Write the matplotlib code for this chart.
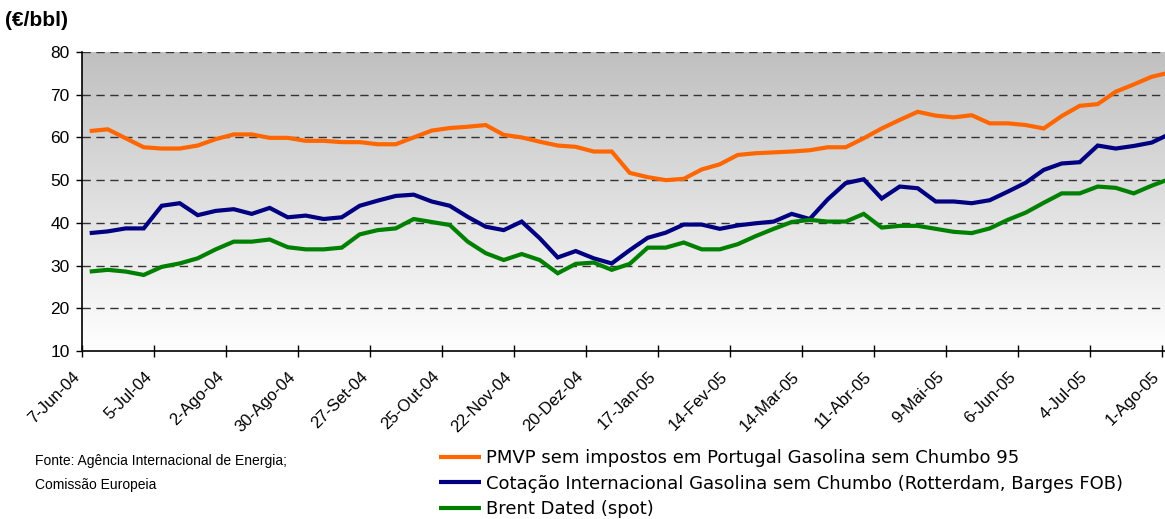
import matplotlib
matplotlib.use("Agg")
import matplotlib.pyplot as plt
import matplotlib.dates as mdates
import matplotlib.transforms as mtransforms
import numpy as np
import pandas as pd

# weekly quotes, first one on Thursday 10-Jun-04
dates = pd.date_range("2004-06-10", periods=61, freq="7D")

pmvp = [61.5, 61.9, 59.8, 57.7, 57.4, 57.4, 58.1, 59.6, 60.7, 60.7,
        59.9, 59.9, 59.2, 59.2, 58.9, 58.9, 58.4, 58.4, 60.0, 61.6,
        62.2, 62.5, 62.9, 60.6, 60.0, 59.0, 58.1, 57.8, 56.7, 56.7,
        51.7, 50.7, 50.0, 50.3, 52.5, 53.7, 55.9, 56.3, 56.5, 56.7,
        57.0, 57.7, 57.7, 59.8, 62.1, 64.1, 66.0, 65.1, 64.7, 65.2,
        63.3, 63.3, 62.9, 62.1, 65.0, 67.4, 67.8, 70.7, 72.4, 74.2,
        75.2]

cotacao = [37.6, 38.0, 38.7, 38.7, 44.0, 44.6, 41.8, 42.8, 43.2, 42.1,
           43.5, 41.3, 41.7, 40.9, 41.3, 44.0, 45.2, 46.3, 46.6, 45.0,
           44.0, 41.4, 39.1, 38.3, 40.3, 36.4, 31.9, 33.4, 31.7, 30.5,
           33.6, 36.5, 37.7, 39.6, 39.6, 38.6, 39.4, 39.9, 40.3, 42.1,
           40.9, 45.5, 49.3, 50.2, 45.7, 48.5, 48.1, 45.0, 45.0, 44.6,
           45.3, 47.3, 49.4, 52.4, 53.9, 54.2, 58.1, 57.4, 58.0, 58.8,
           60.8]

brent = [28.6, 29.0, 28.6, 27.8, 29.7, 30.5, 31.7, 33.8, 35.6, 35.6,
         36.1, 34.3, 33.8, 33.8, 34.2, 37.3, 38.3, 38.7, 40.9, 40.2,
         39.5, 35.6, 32.9, 31.3, 32.7, 31.3, 28.2, 30.4, 30.7, 29.0,
         30.4, 34.2, 34.2, 35.4, 33.8, 33.8, 35.0, 36.9, 38.6, 40.2,
         40.7, 40.3, 40.3, 42.1, 38.9, 39.3, 39.3, 38.6, 37.9, 37.6,
         38.7, 40.7, 42.4, 44.7, 46.9, 46.9, 48.5, 48.2, 46.9, 48.7,
         50.3]

tick_dates = pd.date_range("2004-06-07", periods=16, freq="28D")
tick_labels = ["7-Jun-04", "5-Jul-04", "2-Ago-04", "30-Ago-04", "27-Set-04",
               "25-Out-04", "22-Nov-04", "20-Dez-04", "17-Jan-05", "14-Fev-05",
               "14-Mar-05", "11-Abr-05", "9-Mai-05", "6-Jun-05", "4-Jul-05",
               "1-Ago-05"]

series_names = ["PMVP sem impostos em Portugal Gasolina sem Chumbo 95",
                "Cotação Internacional Gasolina sem Chumbo (Rotterdam, Barges FOB)",
                "Brent Dated (spot)"]
colors = ["#ff6600", "#000080", "#008000"]

fig = plt.figure(figsize=(11.65, 5.19), dpi=100)
ax = fig.add_axes([82 / 1165, 168 / 519, 1083 / 1165, 299 / 519])

x0 = mdates.date2num(tick_dates[0])
x1 = x0 + 1083 * 7 / 18
ax.set_xlim(x0, x1)
ax.set_ylim(10, 80)

# grey-to-white gradient background
grad = np.linspace(1, 0, 256).reshape(-1, 1)
cmap = matplotlib.colors.LinearSegmentedColormap.from_list("bg", ["#ffffff", "#c0c0c0"])
ax.imshow(grad, cmap=cmap, aspect="auto", extent=[0, 1, 0, 1],
          transform=ax.transAxes, zorder=0)

for v in range(20, 81, 10):
    ax.axhline(v, color="#333333", lw=1, ls=(0, (6, 4)), zorder=1)

for vals, c, name in zip([pmvp, cotacao, brent], colors, series_names):
    ax.plot(dates, vals, color=c, lw=3, label=name, zorder=3,
            solid_joinstyle="miter", solid_capstyle="butt")

ax.spines["top"].set_visible(False)
ax.spines["right"].set_visible(False)
ax.spines["left"].set_linewidth(1.2)
ax.spines["bottom"].set_linewidth(1.2)

ax.set_yticks(range(10, 81, 10))
ax.tick_params(axis="y", direction="out", length=4, width=1, pad=5)
for lab in ax.get_yticklabels():
    lab.set_family("Liberation Sans")
    lab.set_fontsize(12.5)

ax.set_xticks(mdates.date2num(tick_dates))
ax.set_xticklabels(tick_labels)
ax.tick_params(axis="x", direction="inout", length=9, width=1, pad=14.5)
offset = mtransforms.ScaledTranslation(-1.5 / 100, 0, fig.dpi_scale_trans)
for lab in ax.get_xticklabels():
    lab.set_family("Liberation Sans")
    lab.set_fontsize(12)
    lab.set_rotation(45)
    lab.set_ha("right")
    lab.set_va("baseline")
    lab.set_rotation_mode("anchor")
    lab.set_transform(lab.get_transform() + offset)

fig.text(5 / 1165, 1 - 20 / 519, "(€/bbl)", fontsize=15, fontweight="bold",
         family="Liberation Sans", va="center")
fig.text(35 / 1165, 1 - 461 / 519, "Fonte: Agência Internacional de Energia;",
         fontsize=10, family="Liberation Sans", va="center")
fig.text(35 / 1165, 1 - 485 / 519, "Comissão Europeia",
         fontsize=10, family="Liberation Sans", va="center")

fig.legend(loc="upper left", bbox_to_anchor=(439 / 1165, 1 - 449 / 519),
           frameon=False, fontsize=13, handlelength=2.3, handletextpad=0.28,
           labelspacing=0.42, borderpad=0, borderaxespad=0)

fig.savefig("out.png", dpi=100)
